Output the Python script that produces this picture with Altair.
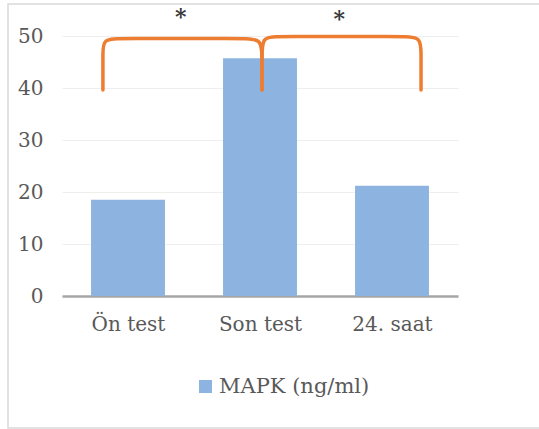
import json
import altair as alt
import pandas as pd

# ---- data ----
categories = ["Ön test", "Son test", "24. saat"]
positions = [0, 1, 2]
values = [18.5, 45.7, 21.2]
series_name = "MAPK (ng/ml)"

# brace annotation control points (data units)
brace1_x = [-0.19, -0.19, -0.19, -0.19, -0.06, 0.86, 1.015, 1.015, 1.015]
brace1_y = [39.6, 43.0, 46.5, 49.5, 49.5, 49.5, 49.5, 46.0, 39.6]
brace2_x = [1.015, 1.015, 1.015, 1.14, 2.08, 2.22, 2.22, 2.22, 2.22]
brace2_y = [39.6, 46.0, 49.9, 49.9, 49.9, 49.9, 46.5, 43.0, 39.6]

star_x = [0.40, 1.60]
star_y = [52.4, 52.0]
star_text = ["*", "*"]

FONT = "DejaVu Serif"
GREY = "#595959"

bars_df = pd.DataFrame({"pos": positions, "cat": categories, "value": values,
                        "series": [series_name] * len(values)})
brace_rows = []
for i, (x, y) in enumerate(zip(brace1_x, brace1_y)):
    brace_rows.append({"b": "b1", "i": i, "x": x, "y": y})
for i, (x, y) in enumerate(zip(brace2_x, brace2_y)):
    brace_rows.append({"b": "b2", "i": i, "x": x, "y": y})
brace_df = pd.DataFrame(brace_rows)
star_df = pd.DataFrame({"x": star_x, "y": star_y, "t": star_text})

xscale = alt.Scale(domain=[-0.5, 2.5], nice=False, zero=False)
yscale = alt.Scale(domain=[0, 50], nice=False)

label_expr = json.dumps(categories, ensure_ascii=False) + "[datum.value]"

xaxis = alt.Axis(
    values=positions, labelExpr=label_expr, title=None, grid=False,
    ticks=False, tickSize=0, labelPadding=18, labelFont=FONT,
    labelFontSize=20, labelColor=GREY, domainColor="#A6A6A6",
    domainWidth=2.5)
yaxis = alt.Axis(
    values=[0, 10, 20, 30, 40, 50], title=None, grid=True,
    gridColor="#EEEEEE", gridWidth=1, domain=False, ticks=False,
    tickSize=0, labelPadding=19, labelFont=FONT, labelFontSize=20,
    labelColor=GREY)

bars = alt.Chart(bars_df).transform_calculate(
    x0="datum.pos - 0.28", x1="datum.pos + 0.28"
).mark_bar(opacity=1).encode(
    x=alt.X("x0:Q", scale=xscale, axis=xaxis),
    x2="x1:Q",
    y=alt.Y("value:Q", scale=yscale, axis=yaxis),
    y2=alt.datum(0),
    color=alt.Color("series:N", scale=alt.Scale(range=["#8DB4E0"]),
                    legend=alt.Legend(orient="none", legendX=133, legendY=340,
                                      title=None, symbolType="square",
                                      symbolSize=169, symbolStrokeWidth=0,
                                      labelFont=FONT, labelFontSize=21,
                                      labelColor=GREY, labelOffset=3)),
)

braces = alt.Chart(brace_df).mark_line(
    color="#ED7D31", strokeWidth=3.5, interpolate="basis", strokeCap="round"
).encode(
    x=alt.X("x:Q", scale=xscale, axis=xaxis),
    y=alt.Y("y:Q", scale=yscale, axis=yaxis),
    detail="b:N",
    order="i:Q",
)

stars = alt.Chart(star_df).mark_text(
    font=FONT, fontSize=22, fontWeight="bold", color="#3A3A3A",
    baseline="alphabetic", align="center"
).encode(
    x=alt.X("x:Q", scale=xscale, axis=xaxis),
    y=alt.Y("y:Q", scale=yscale, axis=yaxis),
    text="t:N",
)

border = alt.Chart(alt.Data(values=[{"a": 1}])).mark_rect(
    filled=False, stroke="#D9D9D9", strokeWidth=1.5
).encode(
    x=alt.value(-54), x2=alt.value(500), y=alt.value(-32), y2=alt.value(392)
)

chart = alt.layer(border, bars, braces, stars).properties(
    width=396, height=260,
    autosize=alt.AutoSizeParams(type="none"),
    padding={"left": 62, "top": 36, "right": 81, "bottom": 133},
).configure_view(stroke=None)

chart.save("out.html", embed_options={"renderer": "svg", "actions": False})
